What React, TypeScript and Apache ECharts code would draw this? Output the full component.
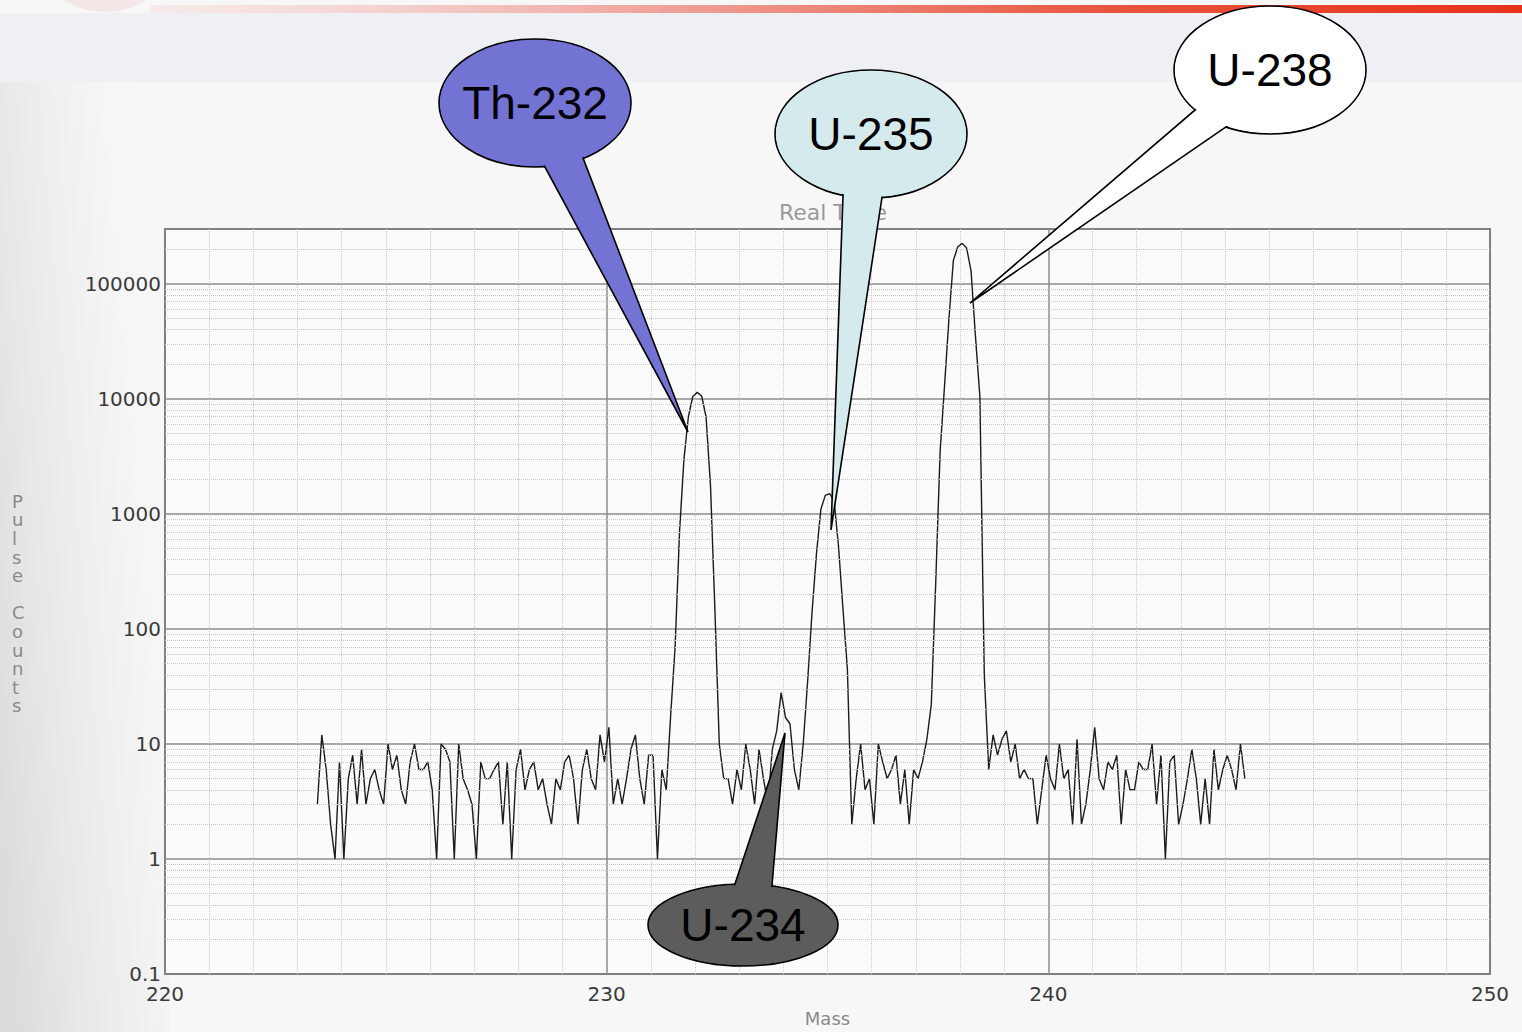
import React, { useEffect, useRef } from "react";
import * as echarts from "echarts";

// ---- data ----
const MASS_START = 223.45;
const MASS_STEP = 0.1;

const noiseBeforeTh = [
  3, 12, 6, 2, 1, 7, 1, 5, 8, 3,
  9, 3, 5, 6, 4, 3, 10, 6, 8, 4,
  3, 7, 10, 6, 6, 7, 4, 1, 10, 9,
  7, 1, 10, 5, 4, 3, 1, 7, 5, 5,
  6, 7, 2, 7, 1, 6, 9, 4, 6, 7,
  4, 5, 3, 2, 5, 4, 7, 8, 5, 2,
  6, 9, 5, 4, 12, 7, 14, 3, 5, 3,
  5, 9, 12, 5, 3, 8, 8, 1, 6, 4,
];
const th232Peak = [18, 70, 700, 3000, 7000, 10500, 11400, 10600, 7000, 1800, 150, 10, 5];
const noiseU234 = [5, 3, 6, 4, 10, 6, 3, 9, 5, 3, 9, 13, 28, 17, 15, 6, 4];
const u235Peak = [10, 35, 140, 450, 1100, 1450, 1500, 1300, 520, 150, 45, 2];
const noiseBeforeU238 = [5, 10, 4, 5, 2, 10, 7, 5, 6, 8, 3, 6, 2, 6, 5, 7];
const u238Peak = [11, 22, 250, 3500, 13000, 50000, 160000, 210000, 225000, 205000, 130000, 35000, 10500, 40, 6];
const noiseAfterU238 = [
  12, 8, 11, 13, 7, 10, 5, 6, 5, 5,
  2, 4, 8, 5, 4, 10, 5, 6, 2, 11,
  2, 3, 6, 14, 5, 4, 7, 6, 8, 2,
  6, 4, 4, 7, 6, 6, 10, 3, 8, 1,
  7, 8, 2, 3, 5, 9, 5, 2, 5, 2,
  9, 4, 6, 8, 6, 4, 10, 5,
];

const xTicks = [220, 230, 240, 250];
const yDecades = [0.1, 1, 10, 100, 1000, 10000, 100000];
const minorFactors = [2, 3, 4, 5, 6, 7, 8, 9];
const Y_MAX = 300000;

const callouts = [
  { label: "Th-232", cx: 535, cy: 103, rx: 96, ry: 64, fill: "#7373d3",
    tail: [[539, 156], [579, 147.5], [688, 432]] },
  { label: "U-235", cx: 871, cy: 134, rx: 96, ry: 64, fill: "#d4eaed",
    tail: [[843.4, 185], [883.5, 187.6], [831, 530]] },
  { label: "U-238", cx: 1270, cy: 70, rx: 96, ry: 64, fill: "#ffffff",
    tail: [[1204, 102.3], [1236.2, 119.9], [970, 303]] },
  { label: "U-234", cx: 743, cy: 925, rx: 95, ry: 41, fill: "#5c5c5c",
    tail: [[732.5, 891.6], [771.3, 893.7], [785, 733]] },
];

const allCounts = [
  ...noiseBeforeTh, ...th232Peak, ...noiseU234, ...u235Peak,
  ...noiseBeforeU238, ...u238Peak, ...noiseAfterU238,
];

export default function App() {
  const ref = useRef<HTMLDivElement>(null);

  useEffect(() => {
    if (!ref.current) return;
    const chart = echarts.init(ref.current, undefined, { renderer: "svg" });

    const seriesData = allCounts.map((c, i) => [
      Math.round((MASS_START + i * MASS_STEP) * 100) / 100,
      c,
    ]);

    const minorLines: { yAxis: number }[] = [];
    yDecades.forEach((d) => {
      minorFactors.forEach((f) => {
        const v = Math.round(d * f * 1000) / 1000;
        if (v < Y_MAX) minorLines.push({ yAxis: v });
      });
    });

    const graphics: any[] = [
      // slide decoration
      {
        type: "rect", z: -10, silent: true,
        shape: { x: 0, y: 13, width: 1522, height: 69 },
        style: { fill: "#eef0f3" },
      },
      {
        type: "rect", z: -9, silent: true,
        shape: { x: 150, y: 5, width: 1372, height: 8 },
        style: {
          fill: new echarts.graphic.LinearGradient(0, 0, 1, 0, [
            { offset: 0, color: "rgba(245,215,215,0.4)" },
            { offset: 0.35, color: "#f0a8a0" },
            { offset: 0.7, color: "#e8553e" },
            { offset: 1, color: "#e8321a" },
          ]),
        },
      },
      {
        type: "ellipse", z: -8, silent: true,
        shape: { cx: 105, cy: -40, rx: 64, ry: 52 },
        style: { fill: "rgba(235,195,195,0.3)" },
      },
      {
        type: "rect", z: -10, silent: true,
        shape: { x: 0, y: 82, width: 170, height: 950 },
        style: {
          fill: new echarts.graphic.LinearGradient(0, 0.75, 1, 0.25, [
            { offset: 0, color: "#dcdcdc" },
            { offset: 0.6, color: "rgba(235,235,235,0.5)" },
            { offset: 1, color: "rgba(247,247,247,0)" },
          ]),
        },
      },
      {
        type: "text", z: 5, silent: true,
        left: 12, top: 492,
        style: {
          text: "P\nu\nl\ns\ne\n\nC\no\nu\nn\nt\ns",
          fill: "#8a8a8a",
          font: "18px 'DejaVu Sans'",
          lineHeight: 18.6,
          align: "center",
        },
      },
    ];

    let z = 100;
    callouts.forEach((c) => {
      graphics.push({
        type: "ellipse", z: z++, silent: true,
        shape: { cx: c.cx, cy: c.cy, rx: c.rx, ry: c.ry },
        style: { fill: c.fill, stroke: "#000", lineWidth: 1.6 },
      });
      graphics.push({
        type: "polygon", z: z++, silent: true,
        shape: { points: c.tail },
        style: { fill: c.fill, stroke: "#000", lineWidth: 1.6, lineJoin: "miter" },
      });
      graphics.push({
        type: "ellipse", z: z++, silent: true,
        shape: { cx: c.cx, cy: c.cy, rx: c.rx - 1.2, ry: c.ry - 1.2 },
        style: { fill: c.fill },
      });
      graphics.push({
        type: "text", z: z++, silent: true,
        x: c.cx, y: c.cy,
        style: {
          text: c.label,
          fill: "#000",
          font: "46px 'Liberation Sans', Arial, sans-serif",
          align: "center",
          verticalAlign: "middle",
        },
      });
    });

    chart.setOption({
      animation: false,
      backgroundColor: "#f7f7f7",
      title: {
        text: "Real Time",
        left: 828,
        top: 196,
        textAlign: "center",
        textStyle: {
          color: "#9a9a9a",
          fontSize: 22,
          fontWeight: "normal",
          fontFamily: "DejaVu Sans",
        },
      },
      grid: {
        left: 165,
        right: 32,
        top: 229,
        bottom: 56,
        show: true,
        backgroundColor: "#fbfbfb",
        borderColor: "#2a2a2a",
        borderWidth: 1.5,
      },
      xAxis: {
        type: "value",
        min: xTicks[0],
        max: xTicks[xTicks.length - 1],
        interval: 10,
        name: "Mass",
        nameLocation: "middle",
        nameGap: 34,
        nameTextStyle: { color: "#8a8a8a", fontSize: 18, fontFamily: "DejaVu Sans" },
        axisLine: { show: false },
        axisTick: { show: false },
        axisLabel: {
          color: "#3a3a3a",
          fontSize: 20,
          fontFamily: "DejaVu Sans",
          margin: 10,
        },
        splitLine: { show: true, lineStyle: { color: "#8c8c8c", width: 1.5 } },
        minorTick: { show: false, splitNumber: 10 },
        minorSplitLine: {
          show: true,
          lineStyle: { color: "#c9c9c9", width: 1, type: "dotted" },
        },
      },
      yAxis: {
        type: "log",
        logBase: 10,
        min: yDecades[0],
        max: Y_MAX,
        splitNumber: 8,
        axisLine: { show: false },
        axisTick: { show: false },
        axisLabel: {
          color: "#3a3a3a",
          fontSize: 20,
          fontFamily: "DejaVu Sans",
          margin: 4,
          formatter: (v: number) => {
            const l = Math.log10(v);
            if (Math.abs(l - Math.round(l)) > 1e-6) return "";
            if (v > 100000 * 1.01) return "";
            return v < 1 ? v.toFixed(1) : String(Math.round(v));
          },
        },
        splitLine: { show: true, lineStyle: { color: "#8c8c8c", width: 1.5 } },
      },
      series: [
        {
          type: "line",
          data: [[xTicks[0], yDecades[0]]],
          showSymbol: false,
          silent: true,
          lineStyle: { opacity: 0 },
          z: 1,
          markLine: {
            silent: true,
            symbol: ["none", "none"],
            label: { show: false },
            emphasis: { disabled: true },
            animation: false,
            lineStyle: { color: "#c6c6c6", width: 1, type: "dotted" },
            data: minorLines,
          },
        },
        {
          type: "line",
          data: seriesData,
          showSymbol: false,
          smooth: false,
          silent: true,
          z: 3,
          lineStyle: { color: "#1c1c1c", width: 1.4 },
        },
      ],
      graphic: graphics,
    });

    return () => chart.dispose();
  }, []);

  return (
    <div
      ref={ref}
      style={{ position: "absolute", left: 0, top: 0, width: 1522, height: 1032 }}
    />
  );
}
